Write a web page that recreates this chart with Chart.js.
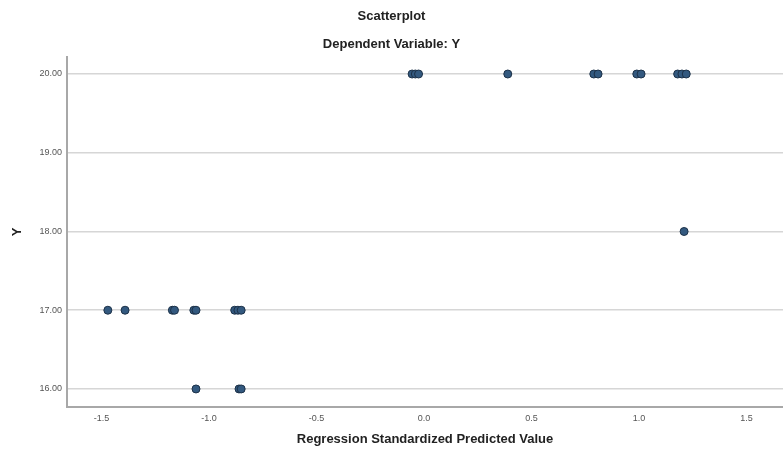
<!DOCTYPE html>
<html>
<head>
<meta charset="utf-8">
<script src="https://cdn.jsdelivr.net/npm/chart.js@4/dist/chart.umd.min.js"></script>
<style>
  html, body { margin: 0; padding: 0; background: #fff; overflow: hidden; }
  canvas { display: block; }
</style>
</head>
<body>
<canvas id="scatterCanvas" width="783" height="456"></canvas>
<script>
// regression standardized predicted value (x) and observed Y, one entry per case
const predictedValues = [
    -0.055, -0.04, -0.025, 0.39, 0.79, 0.81, 0.99, 1.01, 1.18, 1.20, 1.22,
    1.21,
    -1.47, -1.39, -1.17, -1.16, -1.07, -1.06, -0.88, -0.865, -0.85,
    -1.06, -0.86, -0.85
];
const observedY = [
    20, 20, 20, 20, 20, 20, 20, 20, 20, 20, 20,
    18,
    17, 17, 17, 17, 17, 17, 17, 17, 17,
    16, 16, 16
];

const xTickValues = [-1.5, -1.0, -0.5, 0.0, 0.5, 1.0, 1.5];
const yTickValues = [16, 17, 18, 19, 20];

const titleText = 'Scatterplot';
const subtitleText = 'Dependent Variable: Y';
const xAxisLabel = 'Regression Standardized Predicted Value';
const yAxisLabel = 'Y';

const points = predictedValues.map((x, i) => ({ x, y: observedY[i] }));

const fontFamily = "'Liberation Sans', Arial, sans-serif";

new Chart(document.getElementById('scatterCanvas'), {
    type: 'scatter',
    data: {
        datasets: [{
            data: points,
            backgroundColor: '#33597f',
            borderColor: '#1c3148',
            borderWidth: 1,
            pointRadius: 4,
            pointHoverRadius: 4
        }]
    },
    options: {
        responsive: false,
        animation: false,
        layout: { padding: 0, autoPadding: false },
        plugins: {
            legend: { display: false },
            tooltip: { enabled: false },
            title: {
                display: true, text: titleText, color: '#222',
                font: { family: fontFamily, size: 13, weight: 'bold' },
                padding: { top: 9, bottom: 6 }
            },
            subtitle: {
                display: true, text: subtitleText, color: '#222',
                font: { family: fontFamily, size: 13, weight: 'bold' },
                padding: { top: 5.6, bottom: 5.2 }
            }
        },
        scales: {
            x: {
                type: 'linear',
                min: -1.66, max: 1.67,
                afterBuildTicks: (scale) => { scale.ticks = xTickValues.map(v => ({ value: v })); },
                afterFit: (scale) => {
                    scale.height = 49;
                    scale.paddingLeft = 0;
                    scale.paddingRight = 0;
                },
                grid: { display: false, drawTicks: false },
                border: { display: true, color: '#a8a8a8', width: 2 },
                ticks: {
                    color: '#555', padding: 6,
                    font: { family: fontFamily, size: 9 },
                    callback: (v) => Number(v).toFixed(1)
                },
                title: {
                    display: true, text: xAxisLabel, color: '#222',
                    font: { family: fontFamily, size: 13, weight: 'bold' },
                    padding: { top: 0, bottom: 9 }
                }
            },
            y: {
                type: 'linear',
                min: 15.771, max: 20.216,
                afterBuildTicks: (scale) => { scale.ticks = yTickValues.map(v => ({ value: v })); },
                afterFit: (scale) => { scale.width = 67; },
                grid: { color: '#d6d6d6', lineWidth: 1.5, drawTicks: false },
                border: { display: true, color: '#a8a8a8', width: 2 },
                ticks: {
                    color: '#555', padding: 5,
                    font: { family: fontFamily, size: 9 },
                    callback: (v) => Number(v).toFixed(2)
                },
                title: {
                    display: true, text: yAxisLabel, color: '#222',
                    font: { family: fontFamily, size: 13, weight: 'bold' },
                    padding: { top: 10, bottom: 0 }
                }
            }
        }
    }
});
</script>
</body>
</html>
